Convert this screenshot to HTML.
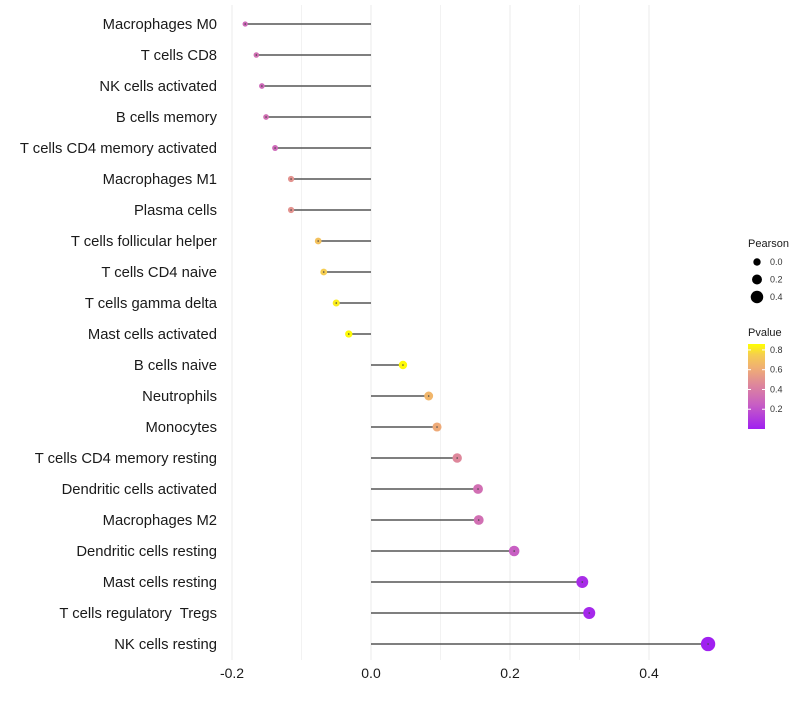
<!DOCTYPE html>
<html><head><meta charset="utf-8"><style>
body{margin:0;background:#fff;font-family:"Liberation Sans",sans-serif}
text{white-space:pre}
</style></head><body>
<svg id="chart" width="800" height="700" xmlns="http://www.w3.org/2000/svg" font-family="Liberation Sans, sans-serif"></svg>
<script>
const categories=["Macrophages M0","T cells CD8","NK cells activated","B cells memory","T cells CD4 memory activated","Macrophages M1","Plasma cells","T cells follicular helper","T cells CD4 naive","T cells gamma delta","Mast cells activated","B cells naive","Neutrophils","Monocytes","T cells CD4 memory resting","Dendritic cells activated","Macrophages M2","Dendritic cells resting","Mast cells resting","T cells regulatory  Tregs","NK cells resting"];
const pearson=[-0.181,-0.165,-0.157,-0.151,-0.138,-0.115,-0.115,-0.076,-0.068,-0.050,-0.032,0.046,0.083,0.095,0.124,0.154,0.155,0.206,0.304,0.314,0.485];
const pvalue=[0.30,0.33,0.30,0.33,0.30,0.50,0.50,0.70,0.75,0.82,0.85,0.85,0.65,0.60,0.45,0.33,0.33,0.25,0.05,0.03,0.0];
const xTicks=[-0.2,0,0.2,0.4];
const xTickLabels=["-0.2","0.0","0.2","0.4"];
const xMinor=[-0.1,0.1,0.3];
const sizeLegend=[0.0,0.2,0.4];
const pLegendTicks=[0.2,0.4,0.6,0.8];

const svg=document.getElementById('chart');
const NS="http://www.w3.org/2000/svg";
const x=v=>371+v*695;
const y=i=>24+i*31;
const r=v=>2.6+(v+0.19)/0.68*4.6;
const stops=[[0,[160,32,240]],[0.25,[200,95,195]],[0.45,[222,135,155]],[0.62,[240,175,115]],[0.75,[245,205,80]],[0.86,[255,255,0]]];
function col(p){for(let k=0;k<stops.length-1;k++){const a=stops[k],b=stops[k+1];if(p<=b[0]){const t=Math.max(0,(p-a[0])/(b[0]-a[0]));return 'rgb('+a[1].map((c,j)=>Math.round(c+(b[1][j]-c)*t)).join(',')+')';}}return 'rgb(255,255,0)';}
function el(tag,attrs,parent){const e=document.createElementNS(NS,tag);for(const k in attrs)e.setAttribute(k,attrs[k]);(parent||svg).appendChild(e);return e;}

xMinor.forEach(v=>{const l=el('line',{x1:x(v),x2:x(v),y1:5,y2:660,stroke:'#f2f2f2','stroke-width':1});

});
xTicks.forEach((v,i)=>{const l=el('line',{x1:x(v),x2:x(v),y1:5,y2:660,stroke:'#ebebeb','stroke-width':1});


const t=el('text',{x:x(v),y:678,'text-anchor':'middle','font-size':14,fill:'#1a1a1a'});t.textContent=xTickLabels[i];

});

categories.forEach((c,i)=>{
const t=el('text',{x:217,y:y(i)+5,'text-anchor':'end','font-size':14.8,fill:'#1a1a1a'});t.textContent=c;


const s=el('line',{x1:x(0),x2:x(pearson[i]),y1:y(i),y2:y(i),stroke:'#555','stroke-width':1.4});


const p=el('circle',{cx:x(pearson[i]),cy:y(i),r:r(pearson[i]),fill:col(pvalue[i])});


const d=el('circle',{cx:x(pearson[i]),cy:y(i),r:0.8,fill:'#444'});


});

const lg=el('g',{});


const lt=el('text',{x:748,y:247,'font-size':11,fill:'#1a1a1a'},lg);lt.textContent='Pearson';
sizeLegend.forEach((v,i)=>{const cy=262+i*17.5;
const c=el('circle',{cx:757,cy:cy,r:r(v)*0.95,fill:'#000'},lg);


const t=el('text',{x:770,y:cy+3,'font-size':9,fill:'#333'},lg);t.textContent=v.toFixed(1);});
const pt=el('text',{x:748,y:336,'font-size':11,fill:'#1a1a1a'},lg);pt.textContent='Pvalue';
const defs=el('defs',{});const gr=el('linearGradient',{id:'pg',x1:0,y1:1,x2:0,y2:0},defs);
stops.forEach(s=>el('stop',{offset:(s[0]/0.86*100)+'%','stop-color':col(s[0])},gr));
const bar=el('rect',{x:748,y:344,width:17,height:85,fill:'url(#pg)'},lg);


pLegendTicks.forEach(v=>{const yy=429-(v/0.86)*85;
el('line',{x1:748,x2:751,y1:yy,y2:yy,stroke:'#fff'},lg);el('line',{x1:762,x2:765,y1:yy,y2:yy,stroke:'#fff'},lg);
const t=el('text',{x:770,y:yy+3,'font-size':9,fill:'#333'},lg);t.textContent=v.toFixed(1);});
</script>
</body></html>
